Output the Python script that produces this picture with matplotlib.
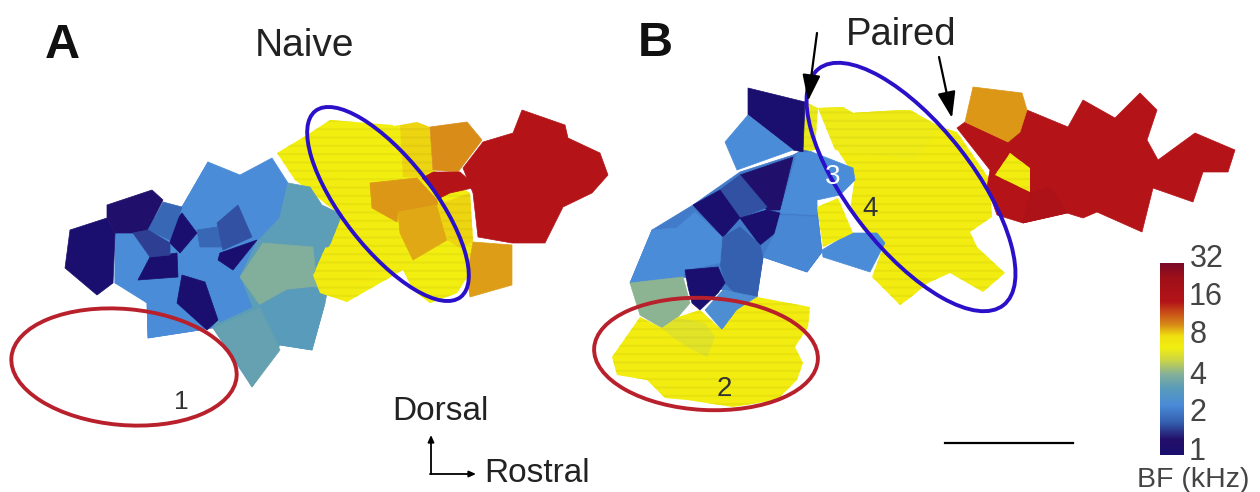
import numpy as np
import matplotlib
matplotlib.use('Agg')
import matplotlib.pyplot as plt
from matplotlib.colors import LinearSegmentedColormap
from matplotlib.patches import Polygon, Ellipse

plt.rcParams['font.family'] = ['Liberation Sans', 'DejaVu Sans']
plt.rcParams['hatch.linewidth'] = 1.6

# best frequency of each recording site (kHz), outline
# the first cells of each list are the broad patches the smaller sites sit on
naive_bf = [2.5, 3.4, 7.0,
            2.5, 2.5, 2.5, 2.5, 3.4, 4.2, 3.3, 3.6, 1.0, 1.2, 1.9, 1.7, 1.0, 1.0,
            1.0, 1.9, 1.6, 1.0,
            7.0, 7.2, 7.0, 8.8, 10.5, 16, 10.2, 9.8, 8.8, 10.0, 16]
naive_cells = [
    [(115,233),(182,207),(208,162),(258,240),(240,277),(252,307),(213,328),(148,338),(147,303),(115,283)],
    [(258,240),(280,217),(343,215),(325,303),(312,350),(280,345),(252,387),(213,328),(240,277)],
    [(300,140),(400,125),(433,170),(470,193),(473,242),(467,277),(457,293),(430,303),(413,290),(403,270),(347,302),(313,275),(340,215),(295,180)],
    [(208,162),(240,175),(272,158),(288,183),(280,217),(258,240),(240,223),(220,213),(197,227),(182,207)],
    [(115,233),(128,235),(148,257),(140,280),(132,287),(115,283)],
    [(140,280),(177,278),(178,297),(200,330),(148,338),(147,303),(132,287)],
    [(178,260),(197,247),(220,257),(240,277),(252,307),(220,322),(197,280)],
    [(280,217),(288,183),(310,187),(322,205),(343,215),(340,232),(328,247),(313,247),(263,243)],
    [(240,277),(263,243),(313,247),(317,287),(287,290),(260,305)],
    [(260,305),(287,290),(315,287),(325,303),(312,350),(280,345)],
    [(213,328),(260,308),(280,350),(252,387),(237,360)],
    [(70,230),(107,218),(115,233),(113,283),(97,295),(65,268)],
    [(107,205),(152,190),(163,200),(148,230),(133,233),(115,233),(107,218)],
    [(197,230),(217,227),(225,247),(200,247)],
    [(217,223),(238,205),(252,237),(223,250)],
    [(220,253),(257,240),(233,270),(218,260)],
    [(182,213),(197,233),(180,253),(170,243),(172,225)],
    [(150,257),(177,253),(178,277),(138,280)],
    [(163,202),(182,207),(170,240),(148,230)],
    [(133,233),(148,230),(170,243),(170,255),(150,257)],
    [(182,275),(205,282),(218,320),(207,330),(177,303)],
    [(277,153),(307,135),(330,120),(393,125),(405,177),(370,180),(365,210),(330,190),(295,180)],
    [(315,173),(370,183),(372,210),(397,223),(410,260),(403,270),(380,272),(363,287),(347,302),(320,293),(313,275),(327,253),(343,213)],
    [(410,260),(440,250),(460,248),(467,277),(457,293),(430,303),(413,290)],
    [(400,125),(417,122),(430,127),(433,170),(420,178),(403,177)],
    [(430,127),(467,122),(482,140),(458,172),(433,170)],
    [(422,178),(433,172),(460,172),(477,187),(450,193),(440,198)],
    [(370,183),(417,178),(437,200),(438,205),(398,212),(397,222),(372,208)],
    [(398,212),(437,205),(447,240),(413,260),(400,233)],
    [(437,205),(470,193),(473,242),(460,248),(447,240)],
    [(473,242),(512,245),(512,285),(470,297),(467,277)],
    [(463,168),(483,142),(513,133),(522,110),(565,125),(568,138),(600,153),(608,175),(592,193),(563,207),(545,243),(512,243),(478,237),(473,193)],
]

paired_bf = [6.6, 7.2, 6.8, 16, 19, 10.2, 7.2, 2.2,
             1.0, 2.5, 1.2, 1.7, 1.0, 1.0, 1.8, 1.8, 2.5, 2.4, 2.5, 7.0,
             2.5, 1.0, 4.4, 2.6, 7.2, 6.3]
paired_cells = [
    [(805,102),(818,108),(815,150),(803,152)],
    [(818,108),(843,107),(853,113),(900,110),(910,110),(940,127),(957,132),(990,180),(992,217),(970,232),(977,247),(1005,273),(983,292),(950,273),(928,283),(910,298),(900,305),(872,277),(882,250),(883,242),(863,230),(850,210),(855,177),(833,143)],
    [(818,108),(843,107),(853,113),(900,110),(910,110),(940,127),(915,160),(835,150)],
    [(957,128),(965,122),(1008,142),(1027,110),(1068,127),(1083,100),(1115,118),(1140,93),(1157,110),(1147,140),(1158,160),(1195,133),(1235,150),(1228,172),(1203,172),(1193,202),(1153,188),(1142,232),(1097,212),(1083,218),(1067,213),(1023,223),(997,215),(987,187),(990,170)],
    [(1030,193),(1050,187),(1067,213),(1023,223)],
    [(973,87),(1022,93),(1027,110),(1020,132),(1008,142),(965,122)],
    [(1010,153),(1030,168),(1030,192),(995,175)],
    [(803,150),(793,155),(740,172),(693,205),(652,230),(630,283),(683,277),(723,290),(757,297),(763,257),(807,272),(822,252),(817,207),(812,152)],
    [(748,88),(805,102),(803,152),(793,150),(748,115)],
    [(748,115),(793,150),(737,170),(725,142)],
    [(793,157),(780,210),(767,210),(740,175)],
    [(740,175),(767,207),(740,218),(720,190)],
    [(693,205),(720,190),(740,218),(723,237)],
    [(740,218),(767,210),(780,213),(775,233),(760,245)],
    [(723,237),(740,227),(760,245),(763,258),(720,263)],
    [(720,263),(763,258),(757,297),(737,295),(725,283)],
    [(797,153),(812,152),(853,168),(855,180),(840,195),(817,200),(817,215),(780,213)],
    [(780,215),(817,217),(822,252),(807,272),(763,257),(775,233)],
    [(822,250),(850,233),(877,233),(885,243),(870,272),(823,257)],
    [(817,207),(838,198),(853,233),(823,247)],
    [(652,230),(677,228),(695,212),(722,237),(720,263),(685,270),(683,277),(630,283)],
    [(685,270),(718,267),(725,283),(718,293),(700,310),(692,303),(688,287)],
    [(630,283),(683,277),(690,303),(678,317),(662,328),(640,315)],
    [(723,290),(757,297),(737,310),(722,330),(705,310)],
    [(640,317),(662,328),(678,317),(700,310),(722,330),(737,310),(757,297),(810,307),(808,327),(795,347),(803,363),(797,380),(777,400),(733,407),(687,400),(665,398),(647,380),(617,375),(612,357)],
    [(662,328),(678,318),(705,323),(715,337),(707,357),(687,347),(667,333)],
]

# log2 position on the colour bar and the colour seen there
bar_pos = [0, 0.4, 0.85, 1.3, 1.75, 2.1, 2.5, 2.8, 3.1, 3.4, 3.7, 4.0, 4.6, 5]
bar_col = ['#1a0f6e', '#24106a', '#3560b0', '#4a8bd8', '#5a9cb8', '#85b09a', '#d0d840',
           '#f2ee10', '#f0e010', '#d88a18', '#c95018', '#b41418', '#a01018', '#7a0a28']
bar_ticks = [32, 16, 8, 4, 2, 1]

# centre x, centre y, width, height, tilt
red_rings = [(124, 367, 226, 116, 5), (706, 354, 224, 112, 3)]
blue_rings = [(388, 204, 236, 90, 52), (911, 187, 300, 124, 52)]

cmap = LinearSegmentedColormap.from_list('bf', [(p / 5, c) for p, c in zip(bar_pos, bar_col)])

fig = plt.figure(figsize=(12.6, 4.92), dpi=100)
ax = fig.add_axes([0, 0, 1, 1])


def draw_cells(cells, freqs):
    for pts, f in zip(cells, freqs):
        col = cmap(np.log2(f) / 5)
        if 5.5 < f < 9:
            # the yellow sites have faint horizontal bands in the scan
            band = tuple(c * 0.96 for c in col[:3])
            ax.add_patch(Polygon(pts, facecolor=col, edgecolor=band, hatch='--', lw=0))
        else:
            ax.add_patch(Polygon(pts, facecolor=col, edgecolor=col, lw=0.5))


draw_cells(naive_cells, naive_bf)
draw_cells(paired_cells, paired_bf)

for x, y, w, h, a in red_rings:
    ax.add_patch(Ellipse((x, y), w, h, angle=a, fill=False, edgecolor='#b8202c', lw=2.8))
for x, y, w, h, a in blue_rings:
    ax.add_patch(Ellipse((x, y), w, h, angle=a, fill=False, edgecolor='#2a10c8', lw=2.8))

# colour bar
grad = np.linspace(5, 0, 256).reshape(-1, 1)
ax.imshow(grad, cmap=cmap, vmin=0, vmax=5, extent=(1160, 1184, 455, 263), aspect='auto', zorder=2)
ax.set_xlim(0, 1260)
ax.set_ylim(492, 0)
ax.axis('off')

tick_x = [1207, 1206, 1198, 1198, 1198, 1197]
tick_y = [259, 297, 335, 376, 413, 452]
for t, x, y in zip(bar_ticks, tick_x, tick_y):
    ax.text(x, y, str(t), fontsize=22, color='#444444', ha='center', va='center')
ax.text(1193, 480, 'BF (kHz)', fontsize=20.5, color='#444444', ha='center', va='center')

ax.text(62, 46, 'A', fontsize=35, fontweight='bold', ha='center', va='center', color='#111111')
ax.text(655, 43, 'B', fontsize=35, fontweight='bold', ha='center', va='center', color='#111111')
ax.text(305, 46, 'Naive', fontsize=28, ha='center', va='center', color='#222222')
ax.text(901, 35, 'Paired', fontsize=27.5, ha='center', va='center', color='#222222')
ax.text(181, 402, '1', fontsize=19, ha='center', va='center', color='#333333')
ax.text(724, 389, '2', fontsize=20, ha='center', va='center', color='#333333')
ax.text(833, 177, '3', fontsize=20, ha='center', va='center', color='white', zorder=2)
ax.text(870, 209, '4', fontsize=20, ha='center', va='center', color='#333333')
ax.text(440, 412, 'Dorsal', fontsize=24, ha='center', va='center', color='#222222')
ax.text(537, 474, 'Rostral', fontsize=24, ha='center', va='center', color='#222222')

# pointers, orientation cross and scale bar
big = dict(arrowstyle='-|>,head_width=0.55,head_length=1.6', color='black', lw=1.6, shrinkA=0, shrinkB=0)
small = dict(arrowstyle='-|>,head_width=0.18,head_length=0.4', color='black', lw=1.3, shrinkA=0, shrinkB=0)
ax.annotate('', xy=(808, 101), xytext=(817, 33), arrowprops=big)
ax.annotate('', xy=(952, 118), xytext=(939, 57), arrowprops=big)
ax.annotate('', xy=(431, 435), xytext=(431, 474), arrowprops=small)
ax.annotate('', xy=(476, 474), xytext=(430, 474), arrowprops=small)
ax.plot([945, 1073], [443, 443], color='black', lw=1.6)

fig.savefig('out.png', dpi=100)
